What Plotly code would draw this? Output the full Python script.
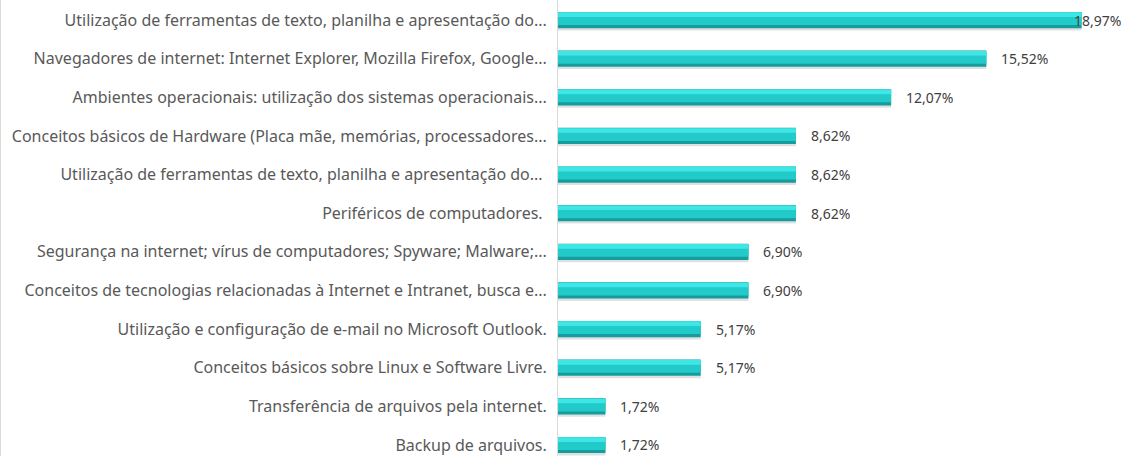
import plotly.graph_objects as go

categories = [
    "Backup de arquivos.",
    "Transferência de arquivos pela internet.",
    "Conceitos básicos sobre Linux e Software Livre.",
    "Utilização e configuração de e-mail no Microsoft Outlook.",
    "Conceitos de tecnologias relacionadas à Internet e Intranet, busca e...",
    "Segurança na internet; vírus de computadores; Spyware; Malware;...",
    "Periféricos de computadores. ",
    "Utilização de ferramentas de texto, planilha e apresentação do... ",
    "Conceitos básicos de Hardware (Placa mãe, memórias, processadores...",
    "Ambientes operacionais: utilização dos sistemas operacionais...",
    "Navegadores de internet: Internet Explorer, Mozilla Firefox, Google...",
    "Utilização de ferramentas de texto, planilha e apresentação do...",
]
values = [1.72, 1.72, 5.17, 5.17, 6.90, 6.90, 8.62, 8.62, 8.62, 12.07, 15.52, 18.97]
value_labels = [f"{v:.2f}".replace(".", ",") + "%" for v in values]

FONT = "'Noto Sans', 'Open Sans', sans-serif"

fig = go.Figure()
# soft shadow
fig.add_trace(go.Bar(y=categories, x=values, orientation="h", width=0.44, offset=-0.27,
                     marker=dict(color="rgba(0,0,0,0.12)", line=dict(width=0)), hoverinfo="skip"))
# dark base of the cylinder
fig.add_trace(go.Bar(y=categories, x=values, orientation="h", width=0.42, offset=-0.21,
                     marker=dict(color="#159D9D", line=dict(width=0))))
# main body
fig.add_trace(go.Bar(y=categories, x=values, orientation="h", width=0.33, offset=-0.13,
                     marker=dict(color="#22CACA", line=dict(width=0)), hoverinfo="skip"))
# highlight
fig.add_trace(go.Bar(y=categories, x=values, orientation="h", width=0.12, offset=0.08,
                     marker=dict(color="#3FE6E6", line=dict(width=0)), hoverinfo="skip"))

vmax = max(values)
for c, v, t in zip(categories, values, value_labels):
    shift = -10 if v == vmax else 13
    fig.add_annotation(x=v, y=c, text=t, xanchor="left", yanchor="middle", xshift=shift,
                       showarrow=False, font=dict(family=FONT, size=14, color="#404040"))

fig.update_layout(
    width=1134, height=456,
    barmode="overlay",
    showlegend=False,
    plot_bgcolor="white", paper_bgcolor="white",
    margin=dict(l=558, r=0, t=0, b=0),
    font=dict(family=FONT, size=16, color="#595959"),
)
fig.update_xaxes(range=[0, 20.87], showgrid=False, showticklabels=False, zeroline=False,
                 showline=False, ticks="")
fig.update_yaxes(type="category", categoryorder="array", categoryarray=categories,
                 range=[-0.285, 11.518], showgrid=False, zeroline=False,
                 showline=True, linecolor="#D9D9D9", linewidth=1, ticks="",
                 ticklabelstandoff=7, automargin=False,
                 tickfont=dict(family=FONT, size=16, color="#595959"))
fig.add_shape(type="line", xref="paper", yref="paper", x0=-557.5/576, x1=-557.5/576, y0=0, y1=1,
              line=dict(color="#D9D9D9", width=1))

fig.write_html("out.html", config={"displayModeBar": False},
               post_script="document.body.style.margin='0';")
